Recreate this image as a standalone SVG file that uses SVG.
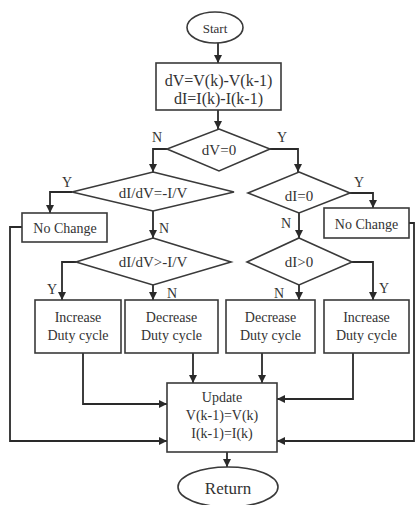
<svg xmlns="http://www.w3.org/2000/svg" width="416" height="505" viewBox="0 0 416 505">
<defs>
<marker id="ah" markerUnits="userSpaceOnUse" markerWidth="9" markerHeight="9" refX="8" refY="4" orient="auto">
<path d="M0,0 L8,4 L0,8 Z" fill="#2a2a2a"/>
</marker>
<style>
.s{fill:#fff;stroke:#3a3a3a;stroke-width:1.6}
.c{fill:none;stroke:#2a2a2a;stroke-width:1.8;marker-end:url(#ah)}
.n{fill:none;stroke:#2a2a2a;stroke-width:1.8}
text{font-family:"Liberation Serif","Times New Roman",serif;fill:#333;text-anchor:middle;dominant-baseline:central;font-size:14px}
.l{font-size:14px;fill:#333}
</style>
</defs>
<rect width="416" height="505" fill="#fff"/>
<g id="connectors">
<path class="c" d="M218,43 V63"/>
<path class="c" d="M218,110 V129"/>
<path class="c" d="M167,149 H153 V172"/>
<path class="c" d="M270,149 H298 V172"/>
<path class="c" d="M72,192 H50 V213"/>
<path class="c" d="M153,211 V238"/>
<path class="c" d="M76,262 H62 V300"/>
<path class="c" d="M153,285 V300"/>
<path class="c" d="M350,193 H373 V208"/>
<path class="c" d="M299,213 V238"/>
<path class="c" d="M299,285 V300"/>
<path class="c" d="M352,262 H373 V300"/>
<path class="c" d="M193,353 V383"/>
<path class="c" d="M262,353 V383"/>
<path class="c" d="M83,353 V404 H167"/>
<path class="c" d="M353,353 V399 H277"/>
<path class="c" d="M22,227 H10 V441 H167"/>
<path class="c" d="M409,223 H414 V441 H277"/>
<path class="c" d="M227,452 V467"/>
<text class="l" x="157" y="137">N</text>
<text class="l" x="282" y="137">Y</text>
<text class="l" x="67" y="182">Y</text>
<text class="l" x="164" y="228">N</text>
<text class="l" x="52" y="289">Y</text>
<text class="l" x="172" y="293">N</text>
<text class="l" x="359" y="182">Y</text>
<text class="l" x="286" y="223">N</text>
<text class="l" x="279" y="293">N</text>
<text class="l" x="384" y="288">Y</text>
</g>
<g id="start">
<ellipse class="s" cx="215" cy="27.5" rx="28" ry="15.5"/>
<text x="215" y="28" style="font-size:13px">Start</text>
</g>
<g id="compute">
<rect class="s" x="156" y="63" width="125" height="47"/>
<text x="218.5" y="80" style="font-size:16px">dV=V(k)-V(k-1)</text>
<text x="218.5" y="98" style="font-size:16px">dI=I(k)-I(k-1)</text>
</g>
<g id="dv0">
<polygon class="s" points="219,129 270,149 219,171 167,149"/>
<text x="219" y="150" style="font-size:15px">dV=0</text>
</g>
<g id="didv_eq">
<polygon class="s" points="153,172 234,192 153,211 72,192"/>
<text x="153" y="193" style="font-size:15px">dI/dV=-I/V</text>
</g>
<g id="nochange_left">
<rect class="s" x="22" y="213" width="85" height="29"/>
<text x="65" y="228">No Change</text>
</g>
<g id="didv_gt">
<polygon class="s" points="153,238 231,262 153,285 76,262"/>
<text x="153" y="262" style="font-size:15px">dI/dV&gt;-I/V</text>
</g>
<g id="increase_left">
<rect class="s" x="35" y="300" width="86" height="53"/>
<text x="78" y="317">Increase</text>
<text x="78" y="335">Duty cycle</text>
</g>
<g id="decrease_left">
<rect class="s" x="125" y="300" width="93" height="53"/>
<text x="171.5" y="317">Decrease</text>
<text x="171.5" y="335">Duty cycle</text>
</g>
<g id="di0">
<polygon class="s" points="299,172 350,193 299,213 248,193"/>
<text x="299" y="196" style="font-size:15px">dI=0</text>
</g>
<g id="nochange_right">
<rect class="s" x="324" y="208" width="85" height="30"/>
<text x="366.5" y="224">No Change</text>
</g>
<g id="digt0">
<polygon class="s" points="299,238 352,262 299,285 247,262"/>
<text x="299" y="262" style="font-size:15px">dI&gt;0</text>
</g>
<g id="decrease_right">
<rect class="s" x="226" y="300" width="89" height="53"/>
<text x="270.5" y="317">Decrease</text>
<text x="270.5" y="335">Duty cycle</text>
</g>
<g id="increase_right">
<rect class="s" x="324" y="300" width="85" height="53"/>
<text x="366.5" y="317">Increase</text>
<text x="366.5" y="335">Duty cycle</text>
</g>
<g id="update">
<rect class="s" x="167" y="383" width="110" height="69"/>
<text x="222" y="397">Update</text>
<text x="222" y="415">V(k-1)=V(k)</text>
<text x="222" y="433">I(k-1)=I(k)</text>
</g>
<g id="return">
<ellipse class="s" cx="228" cy="487" rx="50" ry="20"/>
<text x="228" y="488" style="font-size:17px">Return</text>
</g>
</svg>
